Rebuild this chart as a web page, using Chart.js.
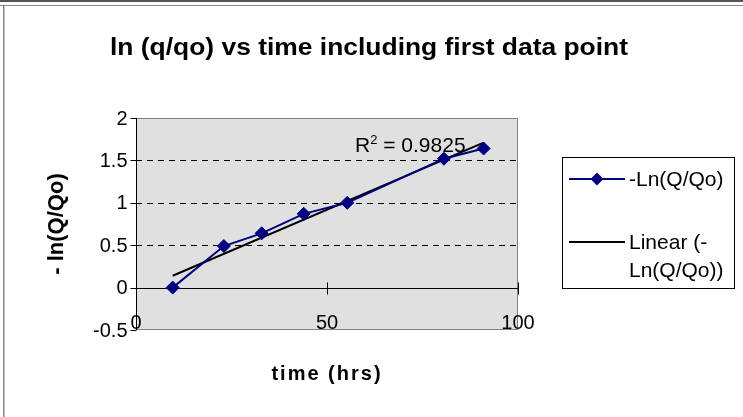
<!DOCTYPE html>
<html>
<head>
<meta charset="utf-8">
<script src="https://cdn.jsdelivr.net/npm/chart.js@4.4.0/dist/chart.umd.min.js"></script>
<style>
  html, body { margin: 0; padding: 0; background: #fff; }
  #wrap { position: relative; width: 743px; height: 417px; }
</style>
</head>
<body>
<div id="wrap"><canvas id="lnChart"></canvas></div>
<script>
// values
const timeHrs = [9.6, 23.0, 32.9, 43.9, 55.3, 80.6, 91.0];
const negLnQ = [0, 0.49, 0.64, 0.87, 1.0, 1.52, 1.64];
const trendTime = [9.6, 91.0];
const trendValue = [0.14, 1.71];
const xTicks = [0, 50, 100];
const yTicks = [-0.5, 0, 0.5, 1, 1.5, 2];
const rSquared = "0.9825";
const chartTitle = "ln (q/qo) vs time including first data point";
const xTitle = "time (hrs)";
const yTitle = "- ln(Q/Qo)";
const seriesLabels = ["-Ln(Q/Qo)", "Linear (-Ln(Q/Qo))"];

const FONT = "Arial, 'Liberation Sans', sans-serif";

function toPoints(xs, ys) {
    return xs.map((v, i) => ({ x: v, y: ys[i] }));
}

// split a legend label so it fits in maxW (breaks after space or hyphen)
function wrapLabel(ctx, text, maxW) {
    const lines = [];
    let rest = text;
    while (ctx.measureText(rest).width > maxW) {
        let cut = -1;
        for (let i = 1; i < rest.length; i++) {
            const ch = rest[i - 1];
            if ((ch === " " || ch === "-") && ctx.measureText(rest.slice(0, i)).width <= maxW) cut = i;
        }
        if (cut < 0) break;
        lines.push(rest.slice(0, cut).trimEnd());
        rest = rest.slice(cut);
    }
    lines.push(rest);
    return lines;
}

const excelLook = {
    id: "excelLook",
    beforeDraw(chart) {
        const { ctx, chartArea: a, scales: { x, y } } = chart;
        ctx.save();

        // window frame
        ctx.fillStyle = "#555";
        ctx.fillRect(0, 0, 743, 2);
        ctx.fillStyle = "#888";
        ctx.fillRect(0, 5, 743, 1);
        ctx.fillRect(3, 5, 1.5, 412);

        // plot area
        ctx.fillStyle = "#e0e0e0";
        ctx.fillRect(a.left, a.top, a.width, a.height);

        // dashed gridlines
        ctx.strokeStyle = "#000";
        ctx.lineWidth = 1;
        ctx.setLineDash([6, 5]);
        yTicks.forEach(v => {
            if (v === 0 || v === yTicks[0] || v === yTicks[yTicks.length - 1]) return;
            const py = Math.round(y.getPixelForValue(v)) + 0.5;
            ctx.beginPath();
            ctx.moveTo(a.left, py);
            ctx.lineTo(a.right, py);
            ctx.stroke();
        });
        ctx.setLineDash([]);

        // plot border
        ctx.strokeStyle = "#808080";
        ctx.strokeRect(a.left + 0.5, a.top + 0.5, a.width - 1, a.height - 1);

        // value axis
        ctx.strokeStyle = "#000";
        const ax = Math.round(x.getPixelForValue(0)) + 0.5;
        ctx.beginPath();
        ctx.moveTo(ax, a.top);
        ctx.lineTo(ax, a.bottom);
        yTicks.forEach(v => {
            const py = Math.round(y.getPixelForValue(v)) + 0.5;
            ctx.moveTo(ax - 6, py);
            ctx.lineTo(ax, py);
        });
        ctx.stroke();

        // category axis crossing at y = 0
        const ay = Math.round(y.getPixelForValue(0)) + 0.5;
        ctx.beginPath();
        ctx.moveTo(a.left, ay);
        ctx.lineTo(a.right, ay);
        xTicks.forEach(v => {
            const px = Math.round(x.getPixelForValue(v)) + 0.5;
            ctx.moveTo(px, ay - 6);
            ctx.lineTo(px, ay + 6);
        });
        ctx.stroke();

        // tick labels
        ctx.fillStyle = "#000";
        ctx.font = "20px " + FONT;
        ctx.textAlign = "right";
        ctx.textBaseline = "middle";
        yTicks.forEach(v => {
            ctx.fillText(String(v), ax - 9, y.getPixelForValue(v) + 1);
        });
        ctx.textAlign = "center";
        xTicks.forEach(v => {
            ctx.fillText(String(v), x.getPixelForValue(v), 323);
        });

        ctx.restore();
    },
    afterDraw(chart) {
        const { ctx, chartArea: a } = chart;
        ctx.save();
        ctx.fillStyle = "#000";

        // chart title, stretched to the width seen in the original
        ctx.font = "bold 24px " + FONT;
        ctx.textAlign = "center";
        ctx.textBaseline = "alphabetic";
        const tw = ctx.measureText(chartTitle).width;
        ctx.save();
        ctx.translate(369, 55);
        ctx.scale(518 / tw, 1);
        ctx.fillText(chartTitle, 0, 0);
        ctx.restore();

        // axis titles
        ctx.font = "bold 20px " + FONT;
        ctx.letterSpacing = "2px";
        ctx.textBaseline = "middle";
        ctx.fillText(xTitle, (a.left + a.right) / 2, 374);
        ctx.letterSpacing = "0px";
        ctx.save();
        ctx.translate(57, (a.top + a.bottom) / 2);
        ctx.rotate(-Math.PI / 2);
        ctx.font = "bold 22px " + FONT;
        ctx.fillText(yTitle, 0, 0);
        ctx.restore();

        // R squared label
        ctx.textAlign = "left";
        ctx.textBaseline = "alphabetic";
        ctx.font = "21px " + FONT;
        let tx = 355;
        ctx.fillText("R", tx, 152);
        tx += ctx.measureText("R").width;
        ctx.font = "13px " + FONT;
        ctx.fillText("2", tx, 144);
        tx += ctx.measureText("2").width;
        ctx.font = "21px " + FONT;
        ctx.fillText(" = " + rSquared, tx, 152);

        // legend
        const ds = chart.data.datasets;
        ctx.strokeStyle = "#000";
        ctx.lineWidth = 1;
        ctx.strokeRect(562.5, 157.5, 172, 131);
        ctx.font = "21px " + FONT;
        ctx.textBaseline = "middle";

        ctx.strokeStyle = ds[0].borderColor;
        ctx.lineWidth = 2;
        ctx.beginPath();
        ctx.moveTo(569, 179);
        ctx.lineTo(625, 179);
        ctx.stroke();
        ctx.fillStyle = ds[0].pointBackgroundColor;
        const r = ds[0].pointRadius;
        ctx.beginPath();
        ctx.moveTo(597 - r, 179);
        ctx.lineTo(597, 179 - r);
        ctx.lineTo(597 + r, 179);
        ctx.lineTo(597, 179 + r);
        ctx.closePath();
        ctx.fill();
        ctx.fillStyle = "#000";
        ctx.fillText(ds[0].label, 629, 180);

        ctx.strokeStyle = ds[1].borderColor;
        ctx.beginPath();
        ctx.moveTo(569, 242);
        ctx.lineTo(625, 242);
        ctx.stroke();
        wrapLabel(ctx, ds[1].label, 102).forEach((line, i) => {
            ctx.fillText(line, 629, 243 + i * 28);
        });

        ctx.restore();
    }
};

new Chart(document.getElementById("lnChart"), {
    type: "scatter",
    data: {
        datasets: [
            {
                label: seriesLabels[0],
                data: toPoints(timeHrs, negLnQ),
                showLine: true,
                borderColor: "#000080",
                borderWidth: 2,
                pointStyle: "rectRot",
                pointRadius: 6.5,
                pointBackgroundColor: "#000080",
                pointBorderColor: "#000080",
                pointBorderWidth: 1,
                clip: false
            },
            {
                label: seriesLabels[1],
                data: toPoints(trendTime, trendValue),
                showLine: true,
                borderColor: "#000000",
                borderWidth: 2,
                pointRadius: 0,
                clip: false
            }
        ]
    },
    options: {
        responsive: true,
        maintainAspectRatio: false,
        animation: false,
        layout: {
            padding: { left: 136, right: 225, top: 118, bottom: 87 }
        },
        plugins: {
            legend: { display: false },
            tooltip: { enabled: false }
        },
        scales: {
            x: { type: "linear", min: 0, max: 100, display: false },
            y: { min: -0.5, max: 2, display: false }
        }
    },
    plugins: [excelLook]
});
</script>
</body>
</html>
